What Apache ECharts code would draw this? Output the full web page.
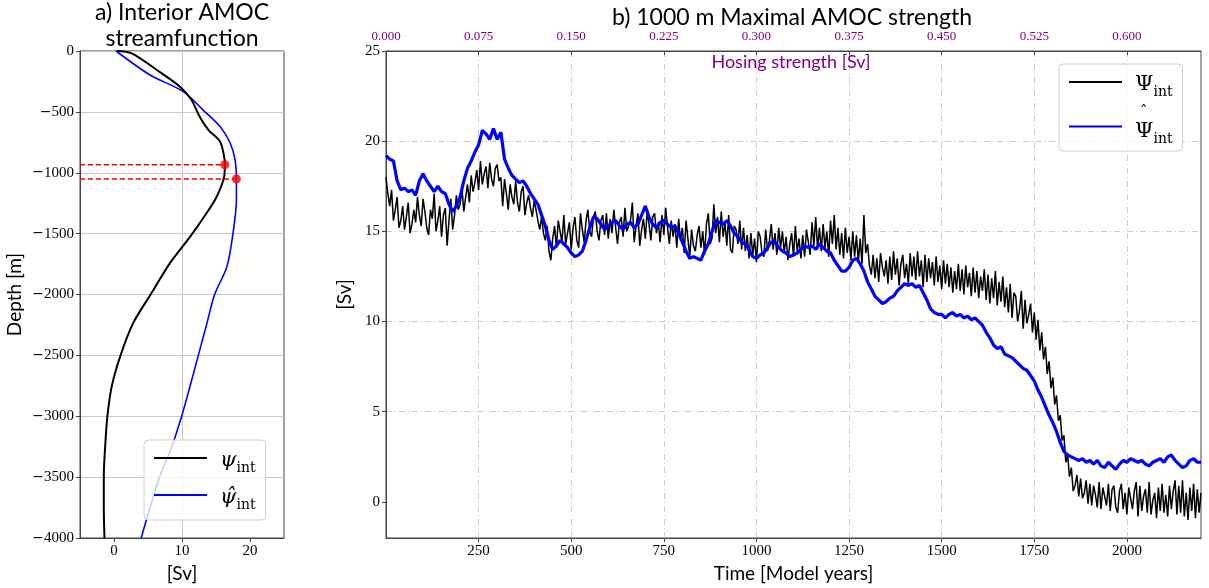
<!DOCTYPE html>
<html>
<head>
<meta charset="utf-8">
<script src="https://cdn.jsdelivr.net/npm/echarts@6/dist/echarts.min.js"></script>
<style>
html,body{margin:0;padding:0;background:#fff;}
#chart{width:1209px;height:588px;}
</style>
</head>
<body>
<div id="chart"></div>
<script>
// ---------- Panel a: interior AMOC streamfunction profiles ----------
const depthPsi = [0, -19, -156, -293, -402, -540, -649, -745, -868, -934, -1032, -1197, -1333, -1525, -1744, -1963, -2237, -2510, -2757, -3004, -3250, -3496, -3742, -4000];
const psiInt   = [0.4, 2.6, 6.3, 9.7, 11.4, 12.6, 13.9, 15.6, 16.2, 16.3, 16.2, 15.1, 13.6, 11.2, 8.2, 5.8, 2.8, 0.9, -0.34, -0.98, -1.3, -1.5, -1.5, -1.4];
const depthPsiHat = [0, -197, -334, -485, -621, -758, -895, -1051, -1224, -1498, -1772, -2000, -2250, -2500, -2750, -3000, -3250, -3500, -3750, -4000];
const psiHatInt   = [0.3, 5.3, 10.2, 13.1, 15.6, 17.1, 17.8, 18.0, 18.0, 17.5, 16.6, 14.8, 13.6, 12.4, 11.2, 9.95, 8.5, 6.7, 5.3, 4.0];
const maxDepths = [-934, -1051];
const maxValues = [16.3, 18.0];
const panelAxisX = [-5, 25];
const panelAxisY = [-4000, 0];

// ---------- Panel b: 1000 m maximal AMOC strength time series ----------
const blackStep = 5;   // years between Psi_int samples
const PsiInt = [
18.0,17.1,16.4,17.3,15.6,16.2,16.9,15.2,15.6,16.4,
15.1,15.8,16.6,14.9,15.4,16.2,15.5,16.9,15.9,15.3,
16.8,16.1,15.2,14.8,16.2,15.7,17.1,15.0,15.6,16.4,
14.7,15.9,16.3,14.2,15.6,16.8,15.1,15.9,17.0,16.2,
16.5,17.4,16.1,16.9,17.6,16.6,18.1,17.2,17.7,18.4,
17.3,18.9,17.6,18.2,18.6,17.4,18.8,17.9,17.5,18.5,
18.7,17.8,18.0,16.4,17.9,17.1,16.2,17.6,16.9,16.5,
17.8,16.6,16.1,17.2,17.5,15.9,16.6,17.0,16.3,15.8,
16.7,16.2,15.6,15.1,15.8,14.9,14.5,15.3,13.9,13.4,
14.6,15.3,14.1,15.6,15.0,14.4,15.9,14.3,14.9,15.5,
14.0,15.2,15.8,14.5,14.1,16.0,15.1,14.4,15.6,16.2,
15.0,14.7,15.8,16.1,15.0,14.5,15.6,15.9,14.8,16.0,
14.6,15.7,14.9,16.2,15.2,14.3,15.5,15.8,14.7,16.3,
15.0,14.9,15.6,16.6,14.4,15.3,16.0,14.2,15.1,15.7,
14.6,16.1,15.4,14.5,15.8,16.0,14.9,15.5,14.4,15.9,
14.8,16.3,15.2,14.3,15.6,14.7,15.4,14.1,15.7,14.5,
15.2,13.8,15.6,14.6,13.6,15.1,14.2,13.9,14.8,15.3,
14.1,15.0,13.7,15.4,16.0,14.3,14.6,16.5,14.9,15.8,
14.4,16.1,14.7,15.5,14.2,15.9,14.0,13.8,15.3,15.1,
14.3,15.6,14.0,15.2,13.9,14.8,13.5,14.9,13.7,14.6,
13.3,15.0,14.7,13.8,13.6,15.1,13.9,14.5,15.4,14.0,
14.9,13.7,15.2,14.1,15.0,13.8,14.7,13.4,14.3,14.9,
13.6,15.3,13.9,14.6,13.5,14.8,13.6,15.1,14.4,13.7,
15.5,14.2,15.8,14.0,15.2,13.9,15.4,14.1,15.0,13.6,
15.6,14.3,15.9,14.0,15.2,13.7,14.9,13.5,15.2,13.8,
14.7,13.4,15.0,13.6,14.8,13.3,14.6,13.2,15.9,13.8,
14.3,13.1,12.6,13.7,12.4,13.5,12.2,13.8,13.0,12.5,
13.4,12.1,13.6,12.3,13.9,12.6,13.5,12.0,13.2,13.7,
12.4,13.2,12.1,13.8,12.5,13.6,12.3,13.9,12.5,13.4,
11.9,13.7,12.2,13.5,12.4,13.3,12.0,13.6,12.2,13.1,
11.8,13.4,12.1,13.2,11.9,13.0,11.6,12.8,11.8,13.2,
11.7,12.9,11.5,13.1,11.9,12.7,11.4,13.0,11.6,12.8,
11.3,12.5,11.7,12.9,11.2,12.6,11.0,12.4,11.3,12.8,
10.9,12.2,11.1,12.5,10.8,11.9,10.5,12.1,10.2,11.6,
11.4,10.0,10.6,11.7,9.6,11.2,9.9,10.4,11.0,9.4,
10.5,9.0,10.1,8.4,9.4,7.9,8.6,7.1,7.8,6.3,
6.9,5.4,5.9,4.5,4.8,3.4,3.7,2.2,2.6,1.4,
1.9,0.6,0.9,1.5,0.3,1.3,0.2,0.5,1.2,-0.1,
1.0,-0.2,0.9,0.4,-0.3,1.1,-0.4,0.8,0.3,-0.2,
1.0,-0.5,0.7,0.9,-0.3,-0.6,0.6,1.0,-0.4,0.5,
-0.7,0.8,0.2,-0.4,0.6,1.1,-0.8,0.9,-0.5,0.3,
0.7,-0.6,1.1,-0.7,0.1,0.5,-0.9,0.8,-0.5,1.0,
-0.6,0.4,-0.8,0.9,-0.4,0.6,1.2,-0.7,0.9,-0.6,
1.2,-0.8,0.5,-1.0,0.8,-0.5,1.0,-0.9,0.7,-0.6,
0.5];
const blueStep = 10;   // years between Psi-hat_int samples
const PsiHatInt = [
19.2,19.0,18.9,17.8,17.3,17.4,17.2,17.3,17.0,17.8,
18.2,17.8,17.5,17.2,17.5,17.2,17.1,16.5,16.1,16.4,
16.9,17.8,18.5,18.9,19.4,19.8,20.6,20.4,20.1,20.7,
20.1,20.5,19.0,18.5,18.1,17.9,17.7,17.8,17.5,17.1,
16.8,16.5,15.9,15.3,14.5,14.0,14.2,14.5,14.3,14.1,
13.8,13.6,13.7,13.9,14.5,15.2,15.8,15.7,15.4,15.1,
15.3,15.5,15.6,15.3,15.1,15.4,15.5,15.2,15.4,15.9,
16.4,15.8,15.4,15.2,15.5,15.6,15.4,15.2,15.3,14.9,
14.4,13.9,13.5,13.6,13.5,13.4,13.9,14.3,15.0,15.6,
15.5,15.4,15.6,15.3,14.9,14.7,14.4,14.3,14.0,13.6,
13.5,13.7,13.8,14.1,14.4,14.4,14.1,13.9,13.8,13.6,
13.7,13.8,14.0,14.2,14.1,14.2,14.0,14.3,14.1,13.9,
13.8,13.4,13.1,12.8,12.8,13.0,13.4,13.5,13.2,12.8,
12.2,11.8,11.4,11.2,11.0,11.1,11.3,11.4,11.7,11.9,
12.1,12.0,12.1,11.9,12.0,11.6,11.2,10.7,10.5,10.4,
10.4,10.2,10.4,10.5,10.3,10.4,10.2,10.3,10.1,10.2,
10.0,9.8,9.4,9.1,8.7,8.5,8.6,8.2,8.1,8.0,
7.8,7.6,7.4,7.3,7.0,6.7,6.2,5.8,5.3,4.8,
4.4,3.9,3.3,2.8,2.6,2.5,2.4,2.3,2.4,2.2,
2.3,2.1,2.3,2.0,1.9,2.2,2.0,1.8,2.1,2.3,
2.2,2.4,2.3,2.2,2.3,2.1,2.0,2.2,2.3,2.4,
2.2,2.5,2.6,2.3,2.1,1.9,2.0,2.3,2.4,2.2,
2.2];
const timeRange = [0, 2200];
const timeTicks = 250;
const svRange = [-2, 25];
const svTickValues = [0, 5, 10, 15, 20, 25];
const sfTickValues = [0, 10, 20];
const hosingPerYear = 0.0003;   // Sv per model year
const hosingTicks = 0.075;

// ---------- build data ----------
const pairs = (xs, ys) => xs.map((x, i) => [x, ys[i]]);
const psiData = pairs(psiInt, depthPsi);
const psiHatData = pairs(psiHatInt, depthPsiHat);
const blackData = PsiInt.map((v, i) => [i * blackStep, v]);
const blueData = PsiHatInt.map((v, i) => [i * blueStep, v]);

const serif = 'Liberation Serif';
const sans = 'Lato';
const minusRich = { mn: { fontFamily: 'DejaVu Serif', fontSize: 14, color: '#000' } };
const minusFmt = v => (v < 0 ? '{mn|\u2212}' + Math.abs(v) : String(v));
const purple = '#800080';
const gridDash = [6, 3, 1, 3];
const spine = '#444';

const legendRich = {
  m: { fontFamily: 'DejaVu Serif', fontStyle: 'italic', fontSize: 21, color: '#000', verticalAlign: 'bottom', lineHeight: 26 },
  M: { fontFamily: 'DejaVu Serif', fontSize: 21, color: '#000', verticalAlign: 'bottom', lineHeight: 26 },
  h: { fontFamily: 'DejaVu Sans', fontSize: 15, color: '#000', lineHeight: 5, padding: [0, 0, 0, 5] },
  s: { fontFamily: 'DejaVu Serif', fontSize: 14, color: '#000', verticalAlign: 'bottom', lineHeight: 20, padding: [0, 0, -4, 0] }
};
const legendNames = {
  psi: '{m|ψ}{s|int}',
  psihat: '{m|ψ̂}{s|int}',
  Psi: '{M|Ψ}{s|int}',
  Psihat: '{h|ˆ}\n{M|Ψ}{s|int}'
};
const legendBase = {
  orient: 'vertical', itemWidth: 53, itemHeight: 14, itemGap: 12,
  padding: [10, 10, 8, 9], backgroundColor: 'rgba(255,255,255,0.8)', borderColor: '#d0d0d0', borderWidth: 1, borderRadius: 4,
  itemStyle: { color: 'rgba(0,0,0,0)', borderWidth: 0, opacity: 0 },
  formatter: n => legendNames[n], textStyle: { rich: legendRich, padding: [0, 0, 0, 8] }
};

const chart = echarts.init(document.getElementById('chart'), null, { renderer: 'canvas' });
chart.setOption({
  animation: false,
  backgroundColor: '#fff',
  title: [
    { text: 'a) Interior AMOC\nstreamfunction', left: 182, top: 0, padding: 0, textAlign: 'center',
      textStyle: { fontFamily: sans, fontWeight: 'normal', fontSize: 23, lineHeight: 26, color: '#000' } },
    { text: 'b) 1000 m Maximal AMOC strength', left: 792, top: 5, padding: 0, textAlign: 'center',
      textStyle: { fontFamily: sans, fontWeight: 'normal', fontSize: 23, lineHeight: 26, color: '#000' } },
    { text: 'Hosing strength [Sv]', left: 791, top: 51, padding: 0, textAlign: 'center',
      textStyle: { fontFamily: sans, fontWeight: 'normal', fontSize: 18, lineHeight: 22, color: purple } }
  ],
  grid: [
    { left: 80, top: 51, width: 204, height: 487, show: true, borderColor: spine, borderWidth: 1, backgroundColor: 'transparent' },
    { left: 386, top: 51, width: 815, height: 487, show: true, borderColor: spine, borderWidth: 1, backgroundColor: 'transparent' }
  ],
  legend: [
    Object.assign({}, legendBase, { data: ['psi', 'psihat'], left: 144, top: 440 }),
    Object.assign({}, legendBase, { data: ['Psi', 'Psihat'], left: 1059, top: 64, itemGap: 7, padding: [10, 10, 5, 9] })
  ],
  xAxis: [
    { gridIndex: 0, type: 'value', min: panelAxisX[0], max: panelAxisX[1], interval: 5,
      name: '[Sv]', nameLocation: 'middle', nameGap: 24, nameTextStyle: { fontFamily: sans, fontSize: 19, color: '#000' },
      axisLine: { show: true, onZero: false, lineStyle: { color: spine } },
      axisTick: { show: true, length: 4, customValues: sfTickValues, lineStyle: { color: spine } },
      axisLabel: { customValues: sfTickValues, fontFamily: serif, fontSize: 15, color: '#000', margin: 6, formatter: minusFmt, rich: minusRich },
      splitLine: { show: true, lineStyle: { color: ['rgba(0,0,0,0)', '#c8c8c8'], width: 1 } } },
    { gridIndex: 1, type: 'value', min: timeRange[0], max: timeRange[1], interval: timeTicks,
      name: 'Time [Model years]', nameLocation: 'middle', nameGap: 24, nameTextStyle: { fontFamily: sans, fontSize: 19, color: '#000' },
      axisLine: { show: true, onZero: false, lineStyle: { color: spine } },
      axisTick: { show: true, length: 4, lineStyle: { color: spine } },
      axisLabel: { fontFamily: serif, fontSize: 15, color: '#000', margin: 6, showMinLabel: false, showMaxLabel: false, formatter: v => String(v) },
      splitLine: { show: true, showMinLine: false, showMaxLine: false, lineStyle: { color: '#cccccc', width: 1, type: gridDash } } },
    { gridIndex: 1, type: 'value', position: 'top', min: timeRange[0] * hosingPerYear, max: timeRange[1] * hosingPerYear, interval: hosingTicks,
      axisLine: { show: true, onZero: false, lineStyle: { color: spine } },
      axisTick: { show: true, inside: true, length: 4, lineStyle: { color: spine } },
      axisLabel: { fontFamily: serif, fontSize: 13, color: purple, margin: 8, showMaxLabel: false, formatter: v => v.toFixed(3) },
      splitLine: { show: false } }
  ],
  yAxis: [
    { gridIndex: 0, type: 'value', min: panelAxisY[0], max: panelAxisY[1], interval: 500,
      name: 'Depth [m]', nameLocation: 'middle', nameGap: 56, nameTextStyle: { fontFamily: sans, fontSize: 19, color: '#000' },
      axisLine: { show: true, onZero: false, lineStyle: { color: spine } },
      axisTick: { show: true, length: 4, lineStyle: { color: spine } },
      axisLabel: { fontFamily: serif, fontSize: 15, color: '#000', margin: 6, formatter: minusFmt, rich: minusRich },
      splitLine: { show: true, lineStyle: { color: '#c8c8c8', width: 1 } } },
    { gridIndex: 1, type: 'value', min: svRange[0], max: svRange[1], splitNumber: 5,
      name: '[Sv]', nameLocation: 'middle', nameGap: 32, nameTextStyle: { fontFamily: sans, fontSize: 19, color: '#000' },
      axisLine: { show: true, onZero: false, lineStyle: { color: spine } },
      axisTick: { show: true, length: 4, customValues: svTickValues, lineStyle: { color: spine } },
      axisLabel: { customValues: svTickValues, fontFamily: serif, fontSize: 15, color: '#000', margin: 6 },
      splitLine: { show: true, showMinLine: false, showMaxLine: false, lineStyle: { color: '#cccccc', width: 1, type: gridDash } } }
  ],
  series: [
    ...maxDepths.map((d, i) => ({
      type: 'line', xAxisIndex: 0, yAxisIndex: 0, symbol: 'none', silent: true, z: 3,
      data: [[panelAxisX[0], d], [maxValues[i], d]],
      lineStyle: { color: '#ff0000', width: 1.5, type: [5, 3] }
    })),
    { name: 'psi', type: 'line', xAxisIndex: 0, yAxisIndex: 0, data: psiData, symbol: 'none', smooth: 0.3,
      lineStyle: { color: '#000', width: 2 }, itemStyle: { color: '#000' }, z: 4 },
    { name: 'psihat', type: 'line', xAxisIndex: 0, yAxisIndex: 0, data: psiHatData, symbol: 'none', smooth: 0.3,
      lineStyle: { color: '#0000ff', width: 1.6 }, itemStyle: { color: '#0000ff' }, z: 3 },
    { type: 'scatter', xAxisIndex: 0, yAxisIndex: 0, data: pairs(maxValues, maxDepths), symbolSize: 9,
      itemStyle: { color: '#ff0000' }, z: 6 },
    { name: 'Psi', type: 'line', xAxisIndex: 1, yAxisIndex: 1, data: blackData, symbol: 'none',
      lineStyle: { color: '#000', width: 1.5 }, itemStyle: { color: '#000' }, z: 3 },
    { name: 'Psihat', type: 'line', xAxisIndex: 1, yAxisIndex: 1, data: blueData, symbol: 'none',
      lineStyle: { color: '#0000ff', width: 3.2 }, itemStyle: { color: '#0000ff' }, z: 4 },
    { type: 'line', xAxisIndex: 2, yAxisIndex: 1, data: [], symbol: 'none' }
  ]
});
</script>
</body>
</html>
